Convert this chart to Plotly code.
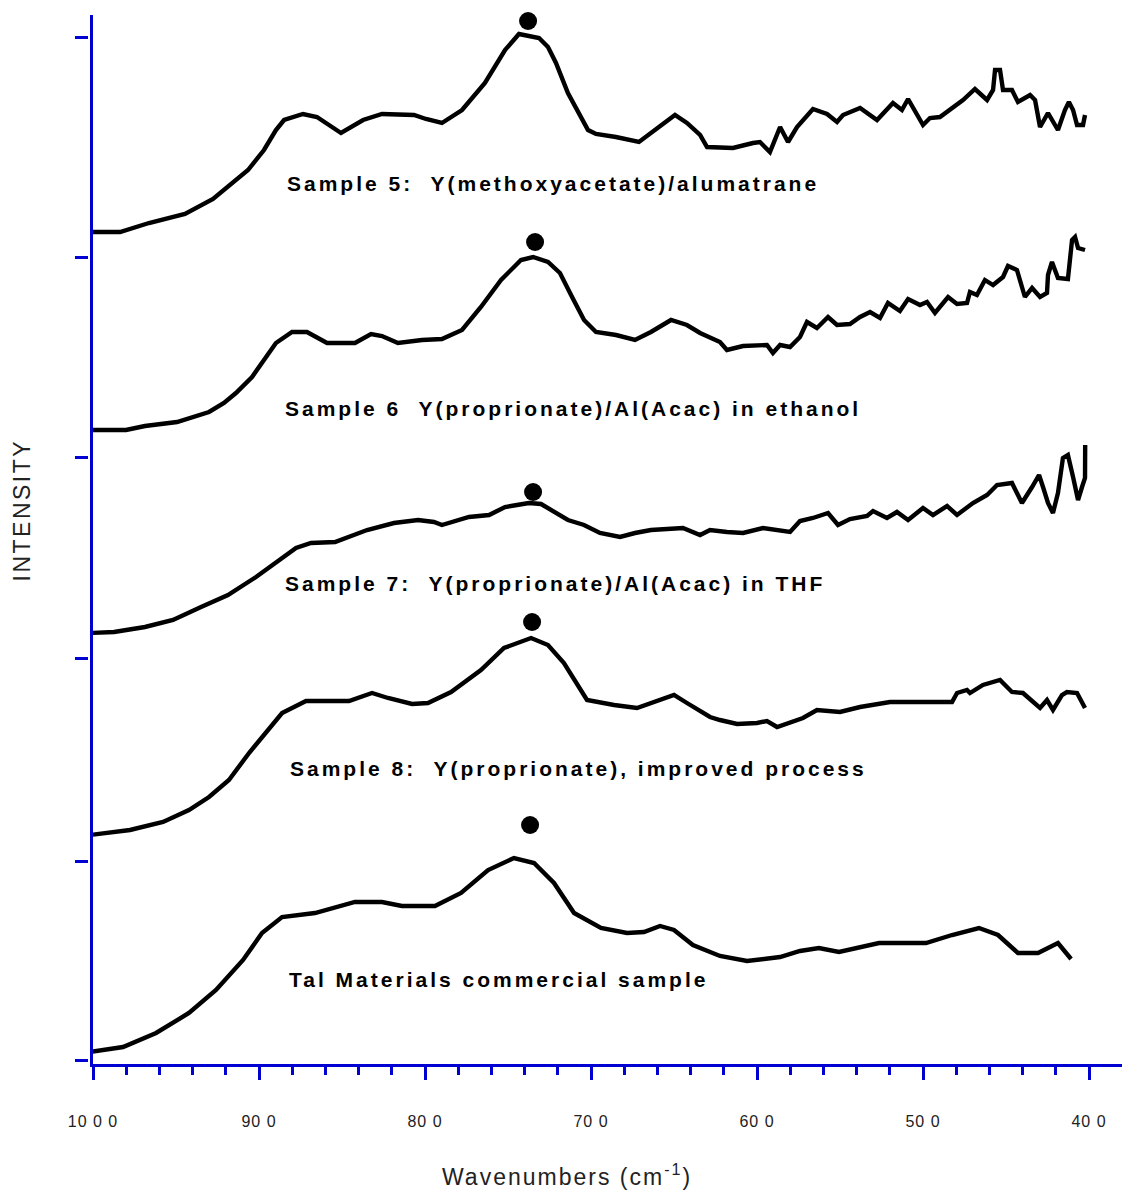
import plotly.graph_objects as go

# ---------------- data (wavenumber cm-1, intensity arbitrary units) ----------------
s5_wn = [1001.8, 983.7, 966.3, 944.6, 927.7, 906.6, 897.0, 889.8, 884.9, 873.5, 865.1, 850.6,
         837.3, 825.9, 806.6, 799.4, 789.8, 777.7, 763.9, 751.8, 743.4, 738.6, 731.3, 725.9,
         721.1, 713.9, 701.8, 697.0, 685.0, 671.1, 659.0, 649.4, 642.2, 634.3, 630.1, 624.1,
         614.5, 602.4, 598.2, 592.2, 586.1, 581.3, 575.9, 566.3, 557.8, 551.8, 548.2, 537.9,
         527.7, 518.1, 512.7, 509.0, 506.0, 500.0, 495.8, 489.8, 475.9, 468.7, 461.4, 457.8,
         456.6, 453.6, 451.8, 446.4, 442.8, 435.5, 432.5, 429.5, 424.7, 418.7, 414.5, 412.1,
         409.6, 407.2, 403.6, 402.4]
s5_int = [83.2, 83.2, 84.1, 85.0, 86.5, 89.4, 91.4, 93.4, 94.4, 95.0, 94.7, 93.1,
          94.4, 95.0, 94.9, 94.5, 94.1, 95.4, 98.1, 101.4, 103.0, 102.8, 102.6, 101.7,
          100.1, 97.1, 93.4, 93.0, 92.7, 92.2, 93.7, 94.9, 94.1, 92.9, 91.7, 91.7,
          91.6, 92.1, 92.2, 91.2, 93.7, 92.2, 93.7, 95.5, 95.0, 94.2, 94.9, 95.6,
          94.4, 96.1, 95.4, 96.5, 95.7, 93.9, 94.6, 94.7, 96.4, 97.5, 96.4, 97.4,
          99.4, 99.4, 97.4, 97.4, 96.2, 96.9, 96.4, 93.7, 95.1, 93.4, 95.4, 96.2,
          95.4, 93.9, 93.9, 94.9]

s6_wn = [1001.8, 980.1, 968.7, 949.4, 930.1, 921.1, 913.9, 904.2, 897.0, 889.8, 880.1, 871.1,
         859.0, 842.2, 832.5, 825.9, 816.3, 801.8, 789.8, 777.7, 766.3, 754.2, 742.2, 734.9,
         725.9, 718.7, 711.4, 704.2, 697.0, 684.9, 673.5, 663.9, 651.8, 642.2, 634.3, 628.3,
         622.3, 618.1, 608.4, 594.0, 590.4, 586.1, 580.1, 574.1, 569.9, 563.9, 557.2, 551.8,
         544.0, 537.9, 531.9, 525.9, 521.1, 513.9, 509.0, 501.8, 497.6, 492.8, 484.9, 479.5,
         473.5, 471.7, 467.5, 462.7, 457.8, 451.8, 448.8, 443.4, 438.6, 434.3, 429.5, 425.3,
         424.7, 422.3, 418.7, 412.7, 410.2, 408.4, 406.6, 402.4]
s6_int = [63.4, 63.4, 63.8, 64.2, 65.2, 66.1, 67.1, 68.7, 70.4, 72.1, 73.2, 73.2,
          72.1, 72.1, 73.0, 72.8, 72.1, 72.4, 72.5, 73.4, 75.7, 78.4, 80.4, 80.7,
          80.2, 79.1, 76.7, 74.4, 73.2, 72.9, 72.4, 73.2, 74.4, 73.9, 73.1, 72.6,
          72.2, 71.4, 71.8, 71.9, 71.1, 71.9, 71.7, 72.7, 74.2, 73.6, 74.7, 73.9,
          74.0, 74.7, 75.2, 74.6, 76.1, 75.3, 76.5, 75.9, 76.2, 75.1, 76.7, 76.0,
          76.1, 77.2, 76.9, 78.4, 77.9, 78.7, 79.8, 79.4, 76.7, 77.6, 76.7, 77.1,
          78.9, 80.2, 78.6, 78.5, 82.4, 82.7, 81.6, 81.4]

s7_wn = [1001.8, 987.3, 968.7, 951.8, 934.9, 918.7, 901.8, 887.3, 877.7, 868.7, 854.2, 834.9,
         818.7, 804.2, 794.6, 789.8, 773.5, 761.4, 751.8, 744.6, 737.4, 730.1, 721.1, 713.9,
         704.2, 694.6, 682.5, 673.5, 663.9, 644.6, 634.3, 628.3, 618.1, 608.4, 596.4, 580.1,
         574.1, 566.3, 557.2, 551.2, 544.0, 533.7, 530.1, 521.7, 515.7, 509.0, 500.0, 494.0,
         485.5, 479.5, 469.9, 461.4, 455.4, 446.4, 443.4, 440.4, 434.3, 430.1, 427.7, 424.7,
         421.7, 418.7, 415.7, 412.7, 409.6, 406.6, 404.2, 402.4, 402.3]
s7_int = [43.1, 43.2, 43.7, 44.4, 45.7, 46.9, 48.7, 50.4, 51.6, 52.1, 52.2, 53.4,
          54.1, 54.4, 54.2, 53.9, 54.7, 54.9, 55.7, 55.9, 56.1, 56.0, 55.1, 54.4,
          53.9, 53.1, 52.7, 53.1, 53.4, 53.6, 52.9, 53.4, 53.2, 53.1, 53.6, 53.2,
          54.3, 54.6, 55.1, 53.9, 54.5, 54.8, 55.3, 54.6, 55.2, 54.4, 55.6, 54.9,
          55.8, 54.9, 56.1, 56.9, 57.9, 58.1, 57.1, 56.1, 57.7, 58.9, 57.7, 56.1,
          55.1, 57.1, 60.6, 60.9, 58.7, 56.4, 57.7, 58.6, 61.9]

s8_wn = [1001.8, 977.7, 957.8, 942.2, 930.1, 918.1, 906.0, 895.8, 886.1, 871.7, 845.8, 831.9,
         822.3, 807.8, 798.2, 784.3, 766.3, 752.4, 736.1, 725.9, 716.3, 702.4, 686.1, 672.3,
         658.4, 650.0, 642.2, 628.3, 622.3, 612.0, 600.0, 594.0, 587.9, 572.3, 563.9, 550.0,
         537.9, 519.9, 482.5, 479.5, 473.5, 471.7, 463.9, 453.6, 449.4, 446.4, 439.8, 433.7,
         429.5, 425.3, 421.7, 416.3, 413.3, 407.2, 402.4]
s8_int = [22.9, 23.4, 24.2, 25.4, 26.7, 28.4, 31.1, 33.1, 35.1, 36.3, 36.3, 37.1,
          36.6, 36.0, 36.1, 37.2, 39.4, 41.6, 42.6, 41.9, 40.1, 36.4, 35.9, 35.6,
          36.4, 36.9, 36.1, 34.7, 34.4, 34.0, 34.1, 34.3, 33.7, 34.6, 35.4, 35.2,
          35.7, 36.2, 36.2, 37.1, 37.4, 37.1, 37.9, 38.4, 37.7, 37.2, 37.1, 36.2,
          35.6, 36.4, 35.4, 36.9, 37.2, 37.1, 35.6]

tal_wn = [1001.8, 981.9, 962.0, 942.2, 925.9, 909.6, 898.2, 886.1, 866.3, 842.2, 825.9, 813.9,
          794.0, 778.3, 762.0, 746.4, 734.3, 722.3, 710.2, 694.0, 678.3, 668.1, 658.4, 650.0,
          638.6, 622.3, 606.0, 586.1, 574.1, 562.7, 550.6, 538.6, 526.5, 498.2, 482.5, 466.3,
          454.8, 442.8, 430.7, 418.7, 410.8]
tal_int = [1.2, 1.7, 3.1, 5.1, 7.4, 10.4, 13.1, 14.7, 15.1, 16.2, 16.2, 15.8,
           15.8, 17.1, 19.4, 20.6, 20.1, 18.1, 15.1, 13.6, 13.1, 13.2, 13.8, 13.4,
           11.9, 10.8, 10.3, 10.7, 11.3, 11.6, 11.2, 11.7, 12.1, 12.1, 12.9, 13.6,
           12.9, 11.1, 11.1, 12.1, 10.5]

peak_wn = [737.9, 733.7, 734.9, 735.5, 736.7]
peak_int = [104.3, 82.2, 57.2, 44.2, 23.9]

labels = ["Sample 5:  Y(methoxyacetate)/alumatrane",
          "Sample 6  Y(proprionate)/Al(Acac) in ethanol",
          "Sample 7:  Y(proprionate)/Al(Acac) in THF",
          "Sample 8:  Y(proprionate), improved process",
          "Tal Materials commercial sample"]
label_wn = [884.3, 885.5, 885.5, 882.5, 883.1]
label_int = [88.1, 65.6, 48.1, 29.6, 8.5]

x_tickvals = [1000, 900, 800, 700, 600, 500, 400]
x_ticktext = ["10 0 0", "90 0", "80 0", "70 0", "60 0", "50 0", "40 0"]
y_tickvals = [102.7, 80.7, 60.7, 40.6, 20.3, 0.4]

# ---------------- figure ----------------
AXIS_BLUE = "#0000D2"
FONT = "Liberation Sans, Arial, sans-serif"


def spaced(txt, px):
    return '<span style="letter-spacing:%.1fpx">%s</span>' % (px, txt)


fig = go.Figure()
for wn, it in [(s5_wn, s5_int), (s6_wn, s6_int), (s7_wn, s7_int), (s8_wn, s8_int), (tal_wn, tal_int)]:
    fig.add_trace(go.Scatter(x=wn, y=it, mode="lines",
                             line=dict(color="black", width=4.4),
                             cliponaxis=False, showlegend=False, hoverinfo="skip"))

fig.add_trace(go.Scatter(x=peak_wn, y=peak_int, mode="markers",
                         marker=dict(symbol="circle", size=18, color="black"),
                         cliponaxis=False, showlegend=False, yaxis="y2"))

for txt, xw, yi in zip(labels, label_wn, label_int):
    fig.add_annotation(x=xw, y=yi, xref="x", yref="y", xanchor="left", yanchor="middle",
                       text=spaced(txt, 3.0), showarrow=False,
                       font=dict(family=FONT, size=21, color="black", weight="bold"))

fig.add_annotation(x=0.46, y=-0.106, xref="paper", yref="paper", xanchor="center", yanchor="middle",
                   text=spaced("Wavenumbers (cm<sup>-1</sup>)", 2.0), showarrow=False,
                   font=dict(family=FONT, size=23, color="#222222"))
fig.add_annotation(x=-0.063, y=0.528, xref="paper", yref="paper", xanchor="center", yanchor="middle",
                   text=spaced("INTENSITY", 2.5), textangle=-90, showarrow=False,
                   font=dict(family=FONT, size=23, color="#222222"))

fig.update_layout(
    width=1122, height=1183,
    margin=dict(l=80, r=0, t=7, b=127),
    paper_bgcolor="white", plot_bgcolor="white",
    showlegend=False,
    xaxis=dict(domain=[0.0048, 1], range=[1000, 375.3], showgrid=False, zeroline=False,
               showline=True, linecolor=AXIS_BLUE, linewidth=2.5,
               tickmode="array", tickvals=x_tickvals,
               ticktext=[spaced(t, 1.0) for t in x_ticktext],
               ticks="outside", ticklen=13, tickwidth=2.5, tickcolor=AXIS_BLUE,
               ticklabelstandoff=28,
               tickfont=dict(family=FONT, size=16, color="#222222"),
               minor=dict(tickmode="array", tickvals=list(range(400, 1001, 20)),
                          ticks="outside", ticklen=8, tickwidth=2.5, tickcolor=AXIS_BLUE)),
    yaxis=dict(range=[0, 104.9], showgrid=False, zeroline=False,
               showline=True, linecolor=AXIS_BLUE, linewidth=2.5,
               ticks="", showticklabels=False),
    yaxis2=dict(overlaying="y", anchor="free", position=0, side="left",
                range=[0, 104.9], showgrid=False, zeroline=False, showline=False,
                tickmode="array", tickvals=y_tickvals, ticks="outside", ticklen=13,
                tickwidth=2.5, tickcolor=AXIS_BLUE, showticklabels=False),
)

fig.write_html("out.html")
